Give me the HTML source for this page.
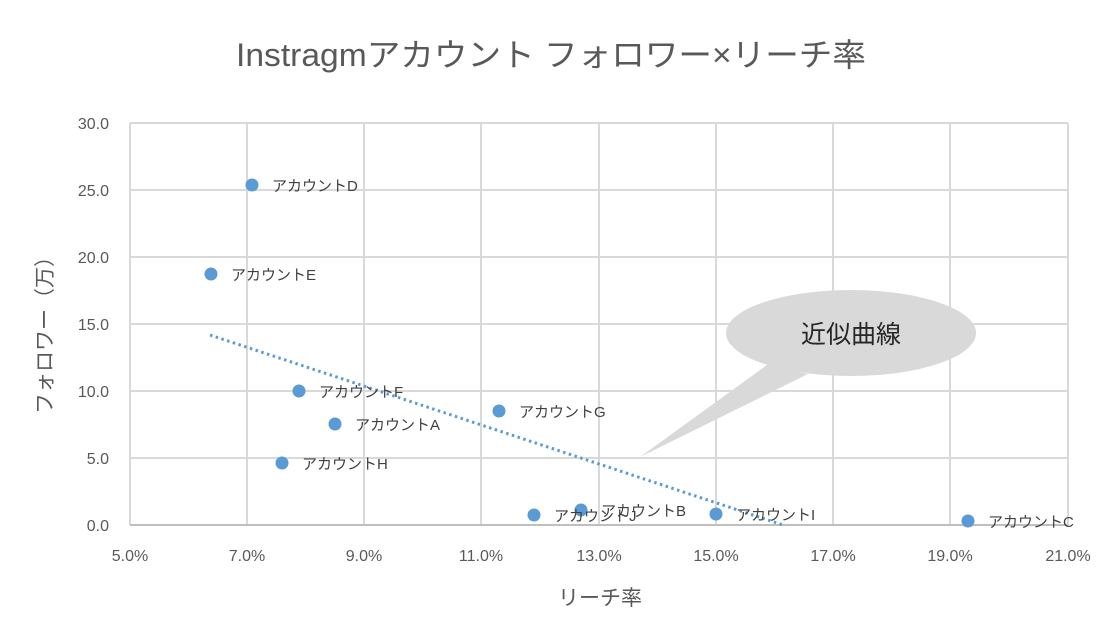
<!DOCTYPE html><html><head><meta charset="utf-8"><style>body{margin:0;background:#fff}</style></head><body>
<svg width="1117" height="638" xmlns="http://www.w3.org/2000/svg" font-family="'Liberation Sans','Noto Sans CJK JP',sans-serif">
<rect width="1117" height="638" fill="#fff"/>
<text x="551" y="66" font-size="32" fill="#595959" text-anchor="middle" textLength="630" lengthAdjust="spacingAndGlyphs">Instragmアカウント フォロワー×リーチ率</text>
<g stroke="#d9d9d9" stroke-width="2">
<line x1="130" y1="123" x2="1068" y2="123"/><line x1="130" y1="190" x2="1068" y2="190"/><line x1="130" y1="257" x2="1068" y2="257"/><line x1="130" y1="324" x2="1068" y2="324"/><line x1="130" y1="391" x2="1068" y2="391"/><line x1="130" y1="458" x2="1068" y2="458"/>
<line x1="130" y1="123" x2="130" y2="525"/><line x1="247" y1="123" x2="247" y2="525"/><line x1="364" y1="123" x2="364" y2="525"/><line x1="481" y1="123" x2="481" y2="525"/><line x1="599" y1="123" x2="599" y2="525"/><line x1="716" y1="123" x2="716" y2="525"/><line x1="833" y1="123" x2="833" y2="525"/><line x1="950" y1="123" x2="950" y2="525"/><line x1="1068" y1="123" x2="1068" y2="525"/>
</g>
<line x1="130" y1="525" x2="1068" y2="525" stroke="#bfbfbf" stroke-width="2"/>
<g font-size="16" fill="#595959" text-anchor="end">
<text x="109" y="129">30.0</text><text x="109" y="196">25.0</text><text x="109" y="263">20.0</text><text x="109" y="330">15.0</text><text x="109" y="397">10.0</text><text x="109" y="464">5.0</text><text x="109" y="531">0.0</text>
</g>
<g font-size="16" fill="#595959" text-anchor="middle">
<text x="130" y="561">5.0%</text><text x="247" y="561">7.0%</text><text x="364" y="561">9.0%</text><text x="481" y="561">11.0%</text><text x="599" y="561">13.0%</text><text x="716" y="561">15.0%</text><text x="833" y="561">17.0%</text><text x="950" y="561">19.0%</text><text x="1068" y="561">21.0%</text>
</g>
<text x="600" y="605" font-size="21" fill="#595959" text-anchor="middle">リーチ率</text>
<text transform="translate(52,330) rotate(-90)" font-size="21" fill="#595959" text-anchor="middle">フォロワー（万）</text>
<line x1="210" y1="335" x2="783" y2="525" stroke="#5b9bd5" stroke-width="3" stroke-dasharray="2.5 3.5"/>
<g fill="#5b9bd5">
<circle cx="252" cy="185" r="6.5"/><circle cx="211" cy="274" r="6.5"/><circle cx="299" cy="391" r="6.5"/><circle cx="335" cy="424" r="6.5"/><circle cx="282" cy="463" r="6.5"/><circle cx="499" cy="411" r="6.5"/><circle cx="534" cy="515" r="6.5"/><circle cx="581" cy="510" r="6.5"/><circle cx="716" cy="514" r="6.5"/><circle cx="968" cy="521" r="6.5"/>
</g>
<g font-size="15" fill="#404040">
<text x="272" y="191">アカウントD</text><text x="231" y="280">アカウントE</text><text x="319" y="397">アカウントF</text><text x="355" y="430">アカウントA</text><text x="302" y="469">アカウントH</text><text x="519" y="417">アカウントG</text><text x="554" y="521">アカウントJ</text><text x="601" y="516">アカウントB</text><text x="736" y="520">アカウントI</text><text x="988" y="527">アカウントC</text>
</g>
<path d="M640,457 L767,365 L808,374 Z" fill="#d9d9d9"/>
<ellipse cx="851" cy="333" rx="125" ry="43" fill="#d9d9d9"/>
<text x="851" y="343" font-size="25" fill="#262626" text-anchor="middle">近似曲線</text>
</svg>
</body></html>
